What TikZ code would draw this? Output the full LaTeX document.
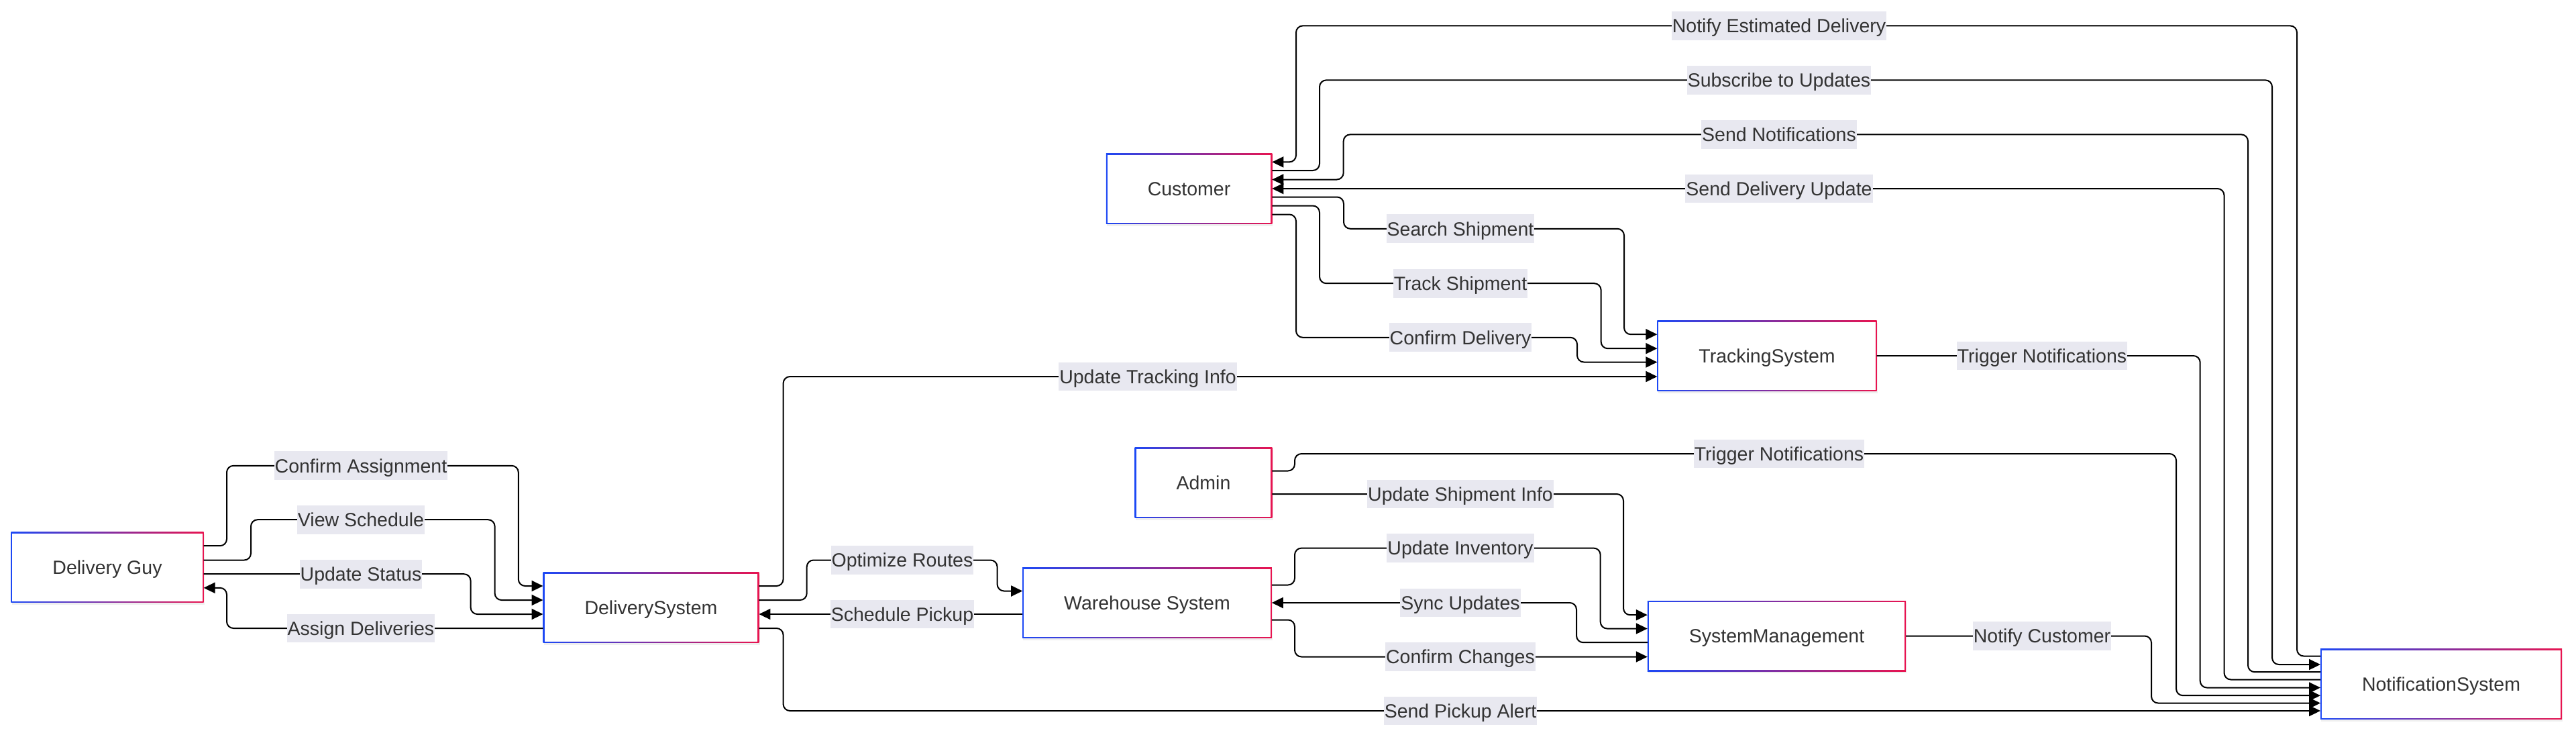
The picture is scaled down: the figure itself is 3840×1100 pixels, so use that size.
\documentclass[tikz,border=0pt]{standalone}
\usepackage{fontspec}
\setmainfont{Liberation Sans}
\usetikzlibrary{arrows.meta,calc,shadows}
\definecolor{edgeblue}{RGB}{28,72,245}
\definecolor{edgered}{RGB}{232,20,80}
\definecolor{lblbg}{RGB}{232,232,240}
\definecolor{txtgray}{RGB}{51,51,51}
\newcommand{\dfont}{\fontsize{14.25}{17}\selectfont}
\tikzset{
  sysbox/.style={rectangle, minimum height=52.5pt, inner xsep=31pt, inner ysep=0pt, outer sep=0pt,
    left color=edgeblue, right color=edgered,
    path picture={\fill[white] ([shift={(1pt,-1pt)}]path picture bounding box.north west)
      rectangle ([shift={(-1pt,1pt)}]path picture bounding box.south east);},
    drop shadow={shadow xshift=0.6pt, shadow yshift=-1.6pt, opacity=0.12},
    text=txtgray, font=\dfont, text height=13.2pt, text depth=3pt},
  lbl/.style={sharp corners, fill=lblbg, inner xsep=0.5pt, inner ysep=0pt, minimum height=21.35pt,
    text=txtgray, font=\dfont, text height=13.2pt, text depth=3pt},
  flow/.style={draw=black, line width=1pt, rounded corners=5pt},
  tip/.style={-{Triangle[length=8.5pt,width=8pt]}}
}
\begin{document}
\begin{tikzpicture}[x=0.5pt,y=-0.5pt]
    \useasboundingbox (0,0) rectangle (3840,1100);
    \fill[white] (0,0) rectangle (3840,1100);
    % actors and systems
    \node[sysbox] (dguy) at (160,845) {Delivery Guy};
    \node[sysbox] (dsys) at (970.5,905) {DeliverySystem};
    \node[sysbox] (cust) at (1772.5,281) {Customer};
    \node[sysbox] (track) at (2634,530) {TrackingSystem};
    \node[sysbox] (admin) at (1794,719) {Admin};
    \node[sysbox] (wh) at (1710,898) {Warehouse System};
    \node[sysbox] (sysmgmt) at (2648.5,947.5) {SystemManagement};
    \node[sysbox] (notif) at (3639,1019) {NotificationSystem};
    % delivery guy
    \draw[flow,tip] ($(dguy.east)+(0,-31.8)$) -| (338,693.8) -- (538,693.8) node[lbl] {Confirm Assignment} -- (772.8,693.8) |- ($(dsys.west)+(0,-32)$);
    \draw[flow,tip] ($(dguy.east)+(0,-10.5)$) -| (374,774.2) -- (538,774.2) node[lbl] {View Schedule} -- (737.6,774.2) |- ($(dsys.west)+(0,-11)$);
    \draw[flow,tip] ($(dguy.east)+(0,10.2)$) -- (538,855.2) node[lbl] {Update Status} -- (701.6,855.2) |- ($(dsys.west)+(0,10)$);
    \draw[flow,tip] ($(dsys.west)+(0,31)$) -- (538,936) node[lbl] {Assign Deliveries} -- (338,936) |- ($(dguy.east)+(0,30.8)$);
    % delivery system
    \draw[flow,tip] ($(dsys.east)+(0,-32)$) -| (1167.6,561) -- (1711,561) node[lbl] {Update Tracking Info} -- ($(track.west)+(0,31)$);
    \draw[flow,tip] ($(dsys.east)+(0,-11)$) -| (1202.7,834.5) -- (1345,834.5) node[lbl] {Optimize Routes} -- (1486.6,834.5) |- ($(wh.west)+(0,-17.5)$);
    \draw[flow,tip] ($(wh.west)+(0,17)$) -- (1345,915) node[lbl] {Schedule Pickup} -- ($(dsys.east)+(0,10)$);
    \draw[flow,tip] ($(dsys.east)+(0,31)$) -| (1167.6,1059) -- (2177,1059) node[lbl] {Send Pickup Alert} -- ($(notif.west)+(0,40)$);
    % customer
    \draw[flow,tip] ($(notif.west)+(0,-41.5)$) -| (3424,38.4) -- (2652,38.4) node[lbl] {Notify Estimated Delivery} -- (1932,38.4) |- ($(cust.east)+(0,-39.6)$);
    \draw[flow,tip] ($(cust.east)+(0,-27)$) -| (1967,119.4) -- (2652,119.4) node[lbl] {Subscribe to Updates} -- (3387,119.4) |- ($(notif.west)+(0,-29)$);
    \draw[flow,tip] ($(notif.west)+(0,-17.8)$) -| (3351,200.4) -- (2652,200.4) node[lbl] {Send Notifications} -- (2002.7,200.4) |- ($(cust.east)+(0,-13.5)$);
    \draw[flow,tip] ($(notif.west)+(0,-6.5)$) -| (3315.5,281) -- (2652,281) node[lbl] {Send Delivery Update} -- (cust.east);
    \draw[flow,tip] ($(cust.east)+(0,12.5)$) -| (2003,340.8) -- (2177,340.8) node[lbl] {Search Shipment} -- (2421,340.8) |- ($(track.west)+(0,-31.8)$);
    \draw[flow,tip] ($(cust.east)+(0,25.5)$) -| (1967,422.2) -- (2177,422.2) node[lbl] {Track Shipment} -- (2386.6,422.2) |- ($(track.west)+(0,-10.8)$);
    \draw[flow,tip] ($(cust.east)+(0,38.5)$) -| (1932,502.8) -- (2177,502.8) node[lbl] {Confirm Delivery} -- (2351,502.8) |- ($(track.west)+(0,9.5)$);
    \draw[flow,tip] (track.east) -- (3044,530) node[lbl] {Trigger Notifications} -- (3279.7,530) |- ($(notif.west)+(0,5.5)$);
    % admin and warehouse
    \draw[flow,tip] ($(admin.east)+(0,-17.5)$) -| (1930,676) -- (2652,676) node[lbl] {Trigger Notifications} -- (3244,676) |- ($(notif.west)+(0,17.2)$);
    \draw[flow,tip] ($(admin.east)+(0,17)$) -- (2177,736) node[lbl] {Update Shipment Info} -- (2420,736) |- ($(sysmgmt.west)+(0,-31.3)$);
    \draw[flow,tip] ($(wh.east)+(0,-26.5)$) -| (1930,816.6) -- (2177,816.6) node[lbl] {Update Inventory} -- (2385.7,816.6) |- ($(sysmgmt.west)+(0,-11)$);
    \draw[flow,tip] ($(sysmgmt.west)+(0,9.7)$) -| (2350,898) -- (2177,898) node[lbl] {Sync Updates} -- (wh.east);
    \draw[flow,tip] ($(wh.east)+(0,25.5)$) -| (1930,978.5) -- (2177,978.5) node[lbl] {Confirm Changes} -- ($(sysmgmt.west)+(0,31)$);
    \draw[flow,tip] (sysmgmt.east) -- (3044,947.5) node[lbl] {Notify Customer} -- (3207,947.5) |- ($(notif.west)+(0,28.5)$);
\end{tikzpicture}
\end{document}
